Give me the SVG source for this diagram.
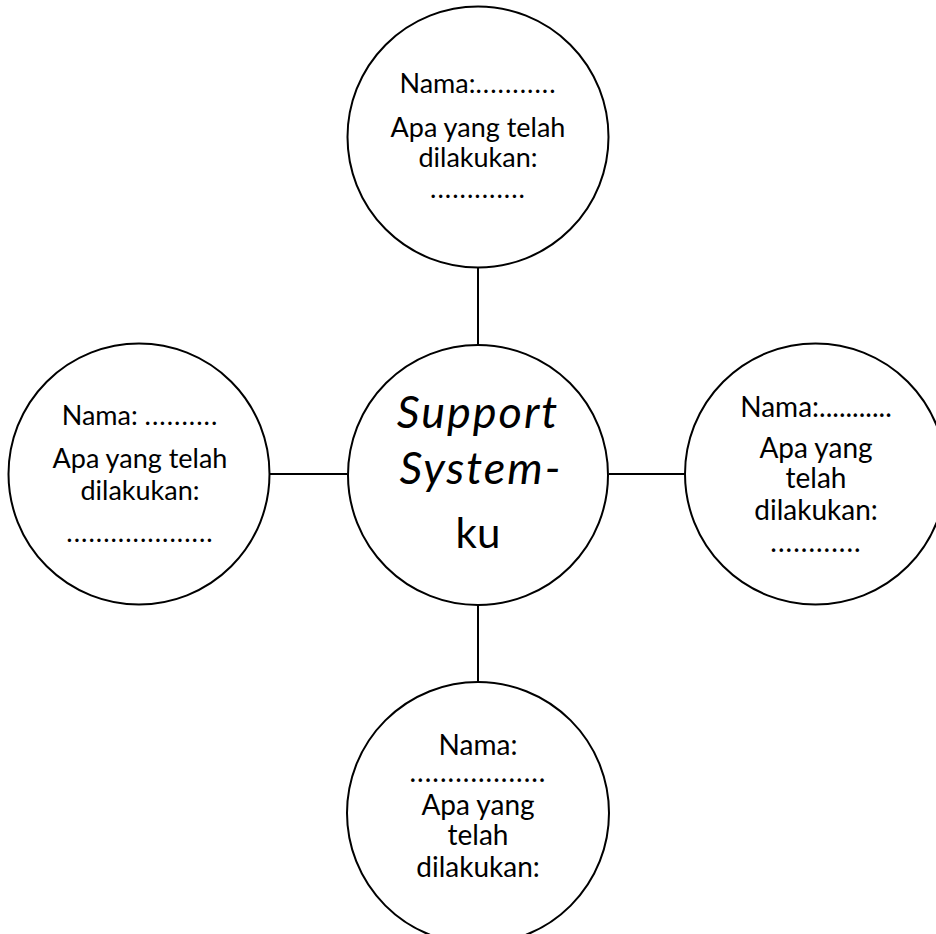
<svg xmlns="http://www.w3.org/2000/svg" width="936" height="934" viewBox="0 0 936 934">
<style>
.c{fill:#fff;stroke:#000;stroke-width:2}
.l{stroke:#000;stroke-width:2;fill:none}
text{font-family:Lato,"Open Sans",sans-serif;fill:#000;text-anchor:middle}
.t{font-size:27px}
.r{font-size:28px}
.m{font-size:45px;font-style:italic;letter-spacing:2px}
.k{font-size:42px}
.d{letter-spacing:1px}
</style>
<rect width="936" height="934" fill="#fff"/>
<g id="connectors">
<line class="l" x1="478" y1="267" x2="478" y2="345"/>
<line class="l" x1="269" y1="474" x2="347" y2="474"/>
<line class="l" x1="609" y1="474" x2="685" y2="474"/>
<line class="l" x1="478" y1="605" x2="478" y2="682"/>
</g>
<g id="top">
<circle class="c" cx="478" cy="137" r="130.5"/>
<text class="t" x="478" y="93"><tspan>Nama:</tspan><tspan class="d">...........</tspan></text>
<text class="t" x="478" y="137">Apa yang telah</text>
<text class="t" x="478" y="167">dilakukan:</text>
<text class="t d" x="478" y="198">.............</text>
</g>
<g id="left">
<circle class="c" cx="139" cy="474" r="130.5"/>
<text class="t" x="140" y="425"><tspan>Nama: </tspan><tspan class="d">..........</tspan></text>
<text class="t" x="140" y="468">Apa yang telah</text>
<text class="t" x="140" y="500">dilakukan:</text>
<text class="t d" x="140" y="542">....................</text>
</g>
<g id="center">
<circle class="c" cx="478" cy="475" r="130"/>
<text class="m" x="478" y="428">Support</text>
<text class="m" x="481" y="484">System-</text>
<text class="k" x="478" y="548">ku</text>
</g>
<g id="right">
<circle class="c" cx="815.5" cy="474" r="130.5"/>
<text class="r" x="816" y="417">Nama:...........</text>
<text class="r" x="816" y="458">Apa yang</text>
<text class="r" x="816" y="488">telah</text>
<text class="r" x="816" y="520">dilakukan:</text>
<text class="r d" x="816" y="552">............</text>
</g>
<g id="bottom">
<circle class="c" cx="478" cy="813" r="131"/>
<text class="r" x="478" y="755">Nama:</text>
<text class="r d" x="478" y="782">..................</text>
<text class="r" x="478" y="815">Apa yang</text>
<text class="r" x="478" y="845">telah</text>
<text class="r" x="478" y="877">dilakukan:</text>
</g>
</svg>
